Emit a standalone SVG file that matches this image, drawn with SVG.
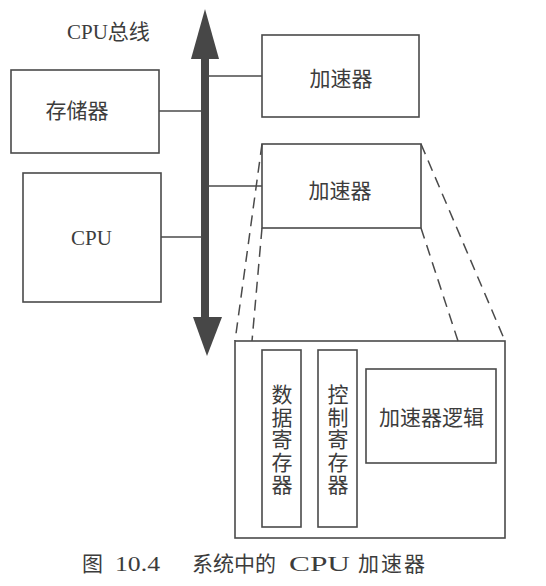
<svg xmlns="http://www.w3.org/2000/svg" width="546" height="586" viewBox="0 0 546 586">
<defs>
<style>
.box{fill:none;stroke:#4a4a4a;stroke-width:1.6}
.ln{fill:none;stroke:#4a4a4a;stroke-width:1.5}
.dash{fill:none;stroke:#4a4a4a;stroke-width:1.5;stroke-dasharray:11 7}
.t{font-family:"Liberation Serif","Noto Sans CJK SC",serif;fill:#3c3c3c;font-size:21px}
.c{text-anchor:middle}
</style>
</defs>
<rect width="546" height="586" fill="#ffffff"/>
<g id="bus">
<line x1="205" y1="55" x2="205" y2="320" stroke="#474747" stroke-width="8"/>
<polygon points="205,9 191,59 219,59" fill="#474747"/>
<polygon points="207,356 193,317 222,317" fill="#474747"/>
<text class="t" x="67" y="39">CPU总线</text>
</g>
<g id="connectors">
<line class="ln" x1="159" y1="111" x2="203" y2="111"/>
<line class="ln" x1="161" y1="237" x2="203" y2="237"/>
<line class="ln" x1="207" y1="76" x2="262" y2="76"/>
<line class="ln" x1="207" y1="186" x2="262" y2="186"/>
<line class="dash" x1="262" y1="144" x2="235" y2="341"/>
<line class="dash" x1="262" y1="228" x2="252" y2="341"/>
<line class="dash" x1="421" y1="144" x2="505" y2="341"/>
<line class="dash" x1="421" y1="228" x2="458" y2="341"/>
</g>
<g id="memory">
<rect class="box" x="11" y="70" width="148" height="83"/>
<text class="t c" x="77" y="118">存储器</text>
</g>
<g id="cpu">
<rect class="box" x="23" y="173" width="138" height="129"/>
<text class="t c" x="91.5" y="245" font-size="23">CPU</text>
</g>
<g id="accel1">
<rect class="box" x="262" y="35" width="157" height="82"/>
<text class="t c" x="341" y="86">加速器</text>
</g>
<g id="accel2">
<rect class="box" x="262" y="144" width="159" height="84"/>
<text class="t c" x="340" y="198">加速器</text>
</g>
<g id="detail">
<rect class="box" x="235" y="341" width="270" height="197"/>
</g>
<g id="dataReg">
<rect class="box" x="262" y="350" width="39" height="177"/>
<text class="t c" font-size="21"><tspan x="282" y="402">数</tspan><tspan x="282" y="424.5">据</tspan><tspan x="282" y="447">寄</tspan><tspan x="282" y="469.5">存</tspan><tspan x="282" y="492">器</tspan></text>
</g>
<g id="ctrlReg">
<rect class="box" x="318" y="350" width="39" height="177"/>
<text class="t c" font-size="21"><tspan x="338" y="402">控</tspan><tspan x="338" y="424.5">制</tspan><tspan x="338" y="447">寄</tspan><tspan x="338" y="469.5">存</tspan><tspan x="338" y="492">器</tspan></text>
</g>
<g id="logic">
<rect class="box" x="366" y="369" width="130" height="94"/>
<text class="t c" x="431.5" y="425" font-size="22">加速器逻辑</text>
</g>
<g id="caption">
<text class="t" x="82" y="571" font-size="23">图</text>
<text class="t" x="115" y="571" font-size="25" textLength="45" lengthAdjust="spacingAndGlyphs">10.4</text>
<text class="t" x="192" y="571" font-size="22.5">系统中的</text>
<text class="t" x="289" y="571" font-size="25" textLength="61" lengthAdjust="spacingAndGlyphs">CPU</text>
<text class="t" x="358" y="571" font-size="23" letter-spacing="2">加速器</text>
</g>
</svg>
